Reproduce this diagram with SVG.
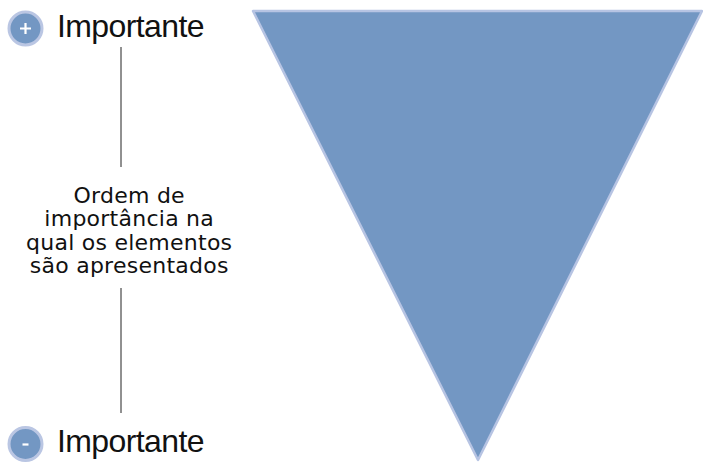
<svg xmlns="http://www.w3.org/2000/svg" width="703" height="462" viewBox="0 0 703 462">
<style>
.big{font-family:"Liberation Sans",Arial,sans-serif;font-size:32px;letter-spacing:-0.6px;fill:#111}
.mid{font-family:"DejaVu Sans","Liberation Sans",sans-serif;font-size:22px;letter-spacing:0.25px;fill:#111;text-anchor:middle}
.badge{fill:#7397C3;stroke:#BAC6E3;stroke-width:3}
.conn{stroke:#222;stroke-width:1;fill:none}
.sign{stroke:#fff;stroke-width:2.2;fill:none}
</style>
<rect width="703" height="462" fill="#fff"/>
<g id="triangle">
<polygon points="253,11 702,11 478,460" fill="#7397C3" stroke="#B7C4E3" stroke-width="2.5" stroke-linejoin="round"/>
</g>
<g id="top">
<circle class="badge" cx="25.5" cy="28.5" r="16.5"/>
<path class="sign" d="M20,28.5 H31 M25.5,23 V34"/>
<text class="big" x="57" y="37">Importante</text>
</g>
<g id="bottom">
<circle class="badge" cx="25.5" cy="444" r="16.5"/>
<path class="sign" d="M22.5,444.5 H28.5" stroke-width="2.6"/>
<text class="big" x="57" y="452">Importante</text>
</g>
<g id="label">
<text class="mid" x="129.2" y="203">Ordem de</text>
<text class="mid" x="129.2" y="226.3">importância na</text>
<text class="mid" x="129.2" y="249.7">qual os elementos</text>
<text class="mid" x="129.2" y="273">são apresentados</text>
</g>
<g id="connectors">
<line class="conn" x1="121" y1="47" x2="121" y2="167"/>
<line class="conn" x1="121" y1="288" x2="121" y2="413"/>
</g>
</svg>
